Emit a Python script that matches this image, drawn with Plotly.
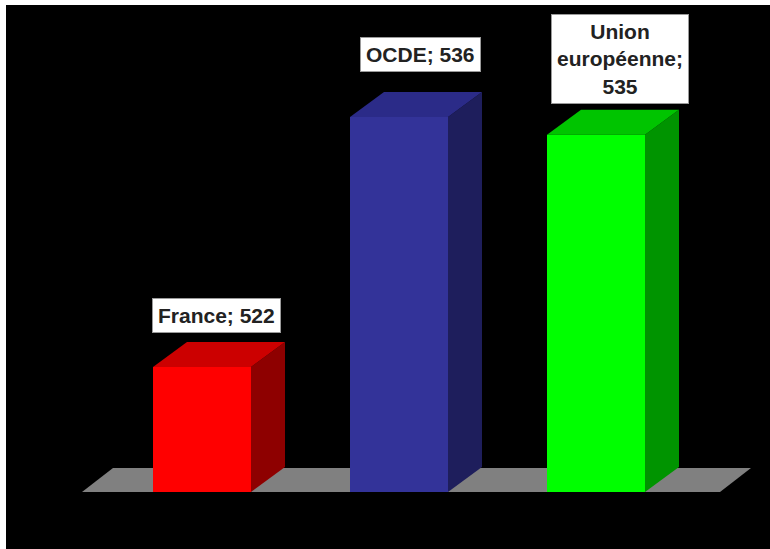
import plotly.graph_objects as go

# ---- data ----
categories = ["France", "OCDE", "Union européenne"]
values = [522, 536, 535]
baseline = 515

# ---- style ----
front_colors = ["#FF0000", "#333399", "#00FF00"]
side_colors = ["#8E0000", "#1E1E5C", "#009400"]
top_colors = ["#CC0000", "#2B2B88", "#00C400"]
floor_color = "#808080"
label_xshift = [14, 21, 24]     # px
label_yshift = [34, 45, 31]     # px
label_wrap = [False, False, True]

W, H = 770, 549
ml, mt = 6, 5
cx0, dxcat = 202.0, 197.0       # px of first category centre, px per category
y0px, ppu = 492.0, 250.0 / 14   # baseline px, px per value unit

xr = [(0 - cx0) / dxcat, (W - cx0) / dxcat]
yr = [baseline - (H - y0px) / ppu, baseline + (y0px - 0) / ppu]

bw = 98 / dxcat
bdx, bdy = 34 / dxcat, 25 / ppu
fdx, fdy = 31 / dxcat, 24 / ppu
fl, fr = (82 - cx0) / dxcat, (720 - cx0) / dxcat

fig = go.Figure()


def poly(xv, yv, color):
    fig.add_trace(go.Scatter(
        x=xv + [xv[0]], y=yv + [yv[0]], fill="toself", fillcolor=color,
        mode="lines", line=dict(width=0), hoverinfo="skip", showlegend=False))


# floor
poly([fl, fr, fr + fdx, fl + fdx],
     [baseline, baseline, baseline + fdy, baseline + fdy], floor_color)

xs = list(range(len(categories)))
for i, v in enumerate(values):
    xl, xrt = xs[i] - bw / 2, xs[i] + bw / 2
    poly([xrt, xrt + bdx, xrt + bdx, xrt],
         [baseline, baseline + bdy, v + bdy, v], side_colors[i])
    poly([xl, xl + bdx, xrt + bdx, xrt],
         [v, v + bdy, v + bdy, v], top_colors[i])
    poly([xl, xrt, xrt, xl], [baseline, baseline, v, v], front_colors[i])

for i, (c, v) in enumerate(zip(categories, values)):
    if label_wrap[i]:
        txt = "<br>".join(c.split(" ")) + ";<br>" + str(v)
    else:
        txt = f"{c}; {v}"
    fig.add_annotation(
        x=xs[i], y=v, xref="x", yref="y", text=f"<b>{txt}</b>",
        showarrow=False, xanchor="center", yanchor="bottom",
        xshift=label_xshift[i], yshift=label_yshift[i],
        font=dict(family="Liberation Sans, Arial, sans-serif", size=21, color="#222222"),
        bgcolor="white", bordercolor="#9a9a9a", borderwidth=1, borderpad=5,
        align="center")

# white frame on the left and top edges
fig.add_shape(type="rect", xref="paper", yref="paper", x0=0, x1=ml / W, y0=0, y1=1,
              fillcolor="white", line=dict(width=0), layer="above")
fig.add_shape(type="rect", xref="paper", yref="paper", x0=0, x1=1, y0=1 - mt / H, y1=1,
              fillcolor="white", line=dict(width=0), layer="above")

fig.update_layout(
    width=W, height=H,
    margin=dict(l=0, r=0, t=0, b=0, pad=0),
    paper_bgcolor="black", plot_bgcolor="black",
    xaxis=dict(range=xr, visible=False, fixedrange=True),
    yaxis=dict(range=yr, visible=False, fixedrange=True),
    showlegend=False)

fig.write_html("out.html")
